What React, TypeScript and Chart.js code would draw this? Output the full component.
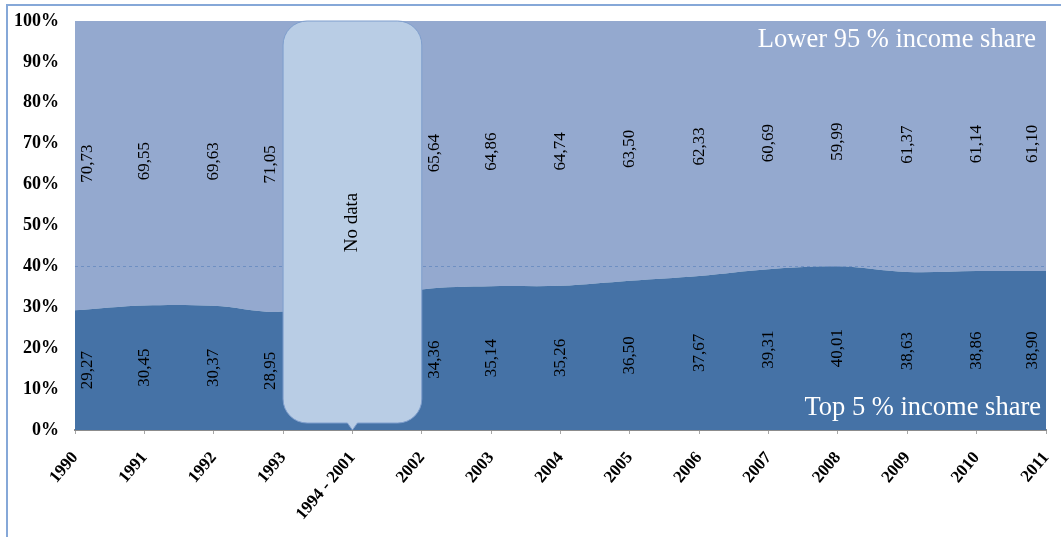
import React, { useEffect, useRef } from 'react';
import { Chart, registerables } from 'chart.js';

Chart.register(...registerables);

// Income shares (%) by year; the 1994 - 2001 column has no observations
const categories = [
  '1990', '1991', '1992', '1993', '1994 - 2001', '2002', '2003', '2004',
  '2005', '2006', '2007', '2008', '2009', '2010', '2011',
];
const top5Share: (number | null)[] = [
  29.27, 30.45, 30.37, 28.95, null, 34.36, 35.14, 35.26, 36.5, 37.67, 39.31, 40.01, 38.63, 38.86, 38.9,
];
const lower95Share: (number | null)[] = [
  70.73, 69.55, 69.63, 71.05, null, 65.64, 64.86, 64.74, 63.5, 62.33, 60.69, 59.99, 61.37, 61.14, 61.1,
];
const seriesNames = ['Top 5 % income share', 'Lower 95 % income share'];
const gapIndex = 4;
const gapText = 'No data';
const referenceLevel = 40;

const SERIF = '"Liberation Serif", "Times New Roman", serif';
const COLOR_TOP = '#4572a6';
const COLOR_LOWER = '#94a9cf';
const COLOR_CALLOUT = '#b9cde5';
const COLOR_CALLOUT_EDGE = '#7e9ecd';
const COLOR_FRAME = '#86a8d8';

const fmt = (v: number) => v.toFixed(2).replace('.', ',');

const overlayPlugin = {
  id: 'overlay',
  afterDatasetsDraw(chart: any) {
    const { ctx, chartArea: a, scales } = chart;
    const xs = scales.x;
    const ys = scales.y;
    ctx.save();

    // dashed reference line
    const yRef = Math.round(ys.getPixelForValue(referenceLevel)) + 0.5;
    ctx.strokeStyle = '#6e8fc2';
    ctx.lineWidth = 1;
    ctx.setLineDash([3, 3]);
    ctx.beginPath();
    ctx.moveTo(a.left, yRef);
    ctx.lineTo(a.right, yRef);
    ctx.stroke();
    ctx.setLineDash([]);

    // rounded callout covering the missing years
    const cl = xs.getPixelForValue(gapIndex - 1);
    const cr = xs.getPixelForValue(gapIndex + 1);
    const cx = xs.getPixelForValue(gapIndex);
    const ct = a.top;
    const cb = a.bottom - 7;
    const r = 24;
    ctx.beginPath();
    ctx.moveTo(cl + r, ct);
    ctx.lineTo(cr - r, ct);
    ctx.arcTo(cr, ct, cr, ct + r, r);
    ctx.lineTo(cr, cb - r);
    ctx.arcTo(cr, cb, cr - r, cb, r);
    ctx.lineTo(cx + 5, cb);
    ctx.lineTo(cx, a.bottom);
    ctx.lineTo(cx - 5, cb);
    ctx.lineTo(cl + r, cb);
    ctx.arcTo(cl, cb, cl, cb - r, r);
    ctx.lineTo(cl, ct + r);
    ctx.arcTo(cl, ct, cl + r, ct, r);
    ctx.closePath();
    ctx.fillStyle = COLOR_CALLOUT;
    ctx.fill();
    ctx.strokeStyle = COLOR_CALLOUT_EDGE;
    ctx.lineWidth = 1;
    ctx.stroke();

    ctx.fillStyle = '#000';
    ctx.textAlign = 'center';
    ctx.textBaseline = 'middle';
    ctx.font = `19px ${SERIF}`;
    ctx.save();
    ctx.translate(cx, (a.top + a.bottom) / 2 - 3);
    ctx.rotate(-Math.PI / 2);
    ctx.fillText(gapText, 0, 0);
    ctx.restore();

    // vertical value labels centred in each band
    ctx.font = `17px ${SERIF}`;
    const m0 = chart.getDatasetMeta(0);
    const m1 = chart.getDatasetMeta(1);
    const base = ys.getPixelForValue(0);
    const inset = 13;
    const last = categories.length - 1;
    for (let i = 0; i < categories.length; i++) {
      const t = top5Share[i];
      const l = lower95Share[i];
      if (t == null || l == null) continue;
      let shift = 0;
      if (i === 0 || i === gapIndex + 1) shift = inset;
      if (i === last || i === gapIndex - 1) shift = -inset;
      const px = m0.data[i].x + shift;
      const y0 = m0.data[i].y;
      const y1 = m1.data[i].y;
      const draw = (txt: string, yy: number) => {
        ctx.save();
        ctx.translate(px, yy);
        ctx.rotate(-Math.PI / 2);
        ctx.fillText(txt, 0, 0);
        ctx.restore();
      };
      draw(fmt(t), (base + y0) / 2);
      draw(fmt(l), (y0 + y1) / 2 - 2);
    }

    // series names inside the areas
    ctx.fillStyle = '#ffffff';
    ctx.font = `26.5px ${SERIF}`;
    ctx.textAlign = 'right';
    ctx.textBaseline = 'alphabetic';
    ctx.fillText(seriesNames[1], a.right - 10, a.top + 26);
    ctx.fillText(seriesNames[0], a.right - 5, a.bottom - 15);

    ctx.restore();
  },
  afterDraw(chart: any) {
    const { ctx } = chart;
    ctx.save();
    ctx.strokeStyle = COLOR_FRAME;
    ctx.lineWidth = 2;
    ctx.beginPath();
    ctx.moveTo(7, chart.height);
    ctx.lineTo(7, 5);
    ctx.lineTo(chart.width, 5);
    ctx.stroke();
    ctx.restore();
  },
};

export default function App() {
  const ref = useRef<HTMLCanvasElement | null>(null);

  useEffect(() => {
    if (!ref.current) return;
    const chart = new Chart(ref.current, {
      type: 'line',
      data: {
        labels: categories,
        datasets: [
          {
            label: seriesNames[0],
            data: top5Share,
            backgroundColor: COLOR_TOP,
            borderWidth: 0,
            pointRadius: 0,
            fill: 'origin',
            tension: 0.35,
            spanGaps: true,
          },
          {
            label: seriesNames[1],
            data: lower95Share,
            backgroundColor: COLOR_LOWER,
            borderWidth: 0,
            pointRadius: 0,
            fill: '-1',
            tension: 0.35,
            spanGaps: true,
          },
        ],
      },
      options: {
        responsive: false,
        animation: false,
        devicePixelRatio: 1,
        layout: { padding: { left: 0, top: 21, right: 15, bottom: 0 } },
        plugins: { legend: { display: false }, tooltip: { enabled: false } },
        scales: {
          x: {
            offset: false,
            grid: { display: true, drawOnChartArea: false, tickLength: 4, color: '#a6a6a6' },
            border: { display: true, color: '#8c8c8c', width: 2 },
            ticks: {
              autoSkip: false,
              minRotation: 50,
              maxRotation: 50,
              color: '#000',
              padding: 14,
              font: { family: SERIF, size: 17, weight: 'bold' },
            },
            afterFit: (s: any) => {
              s.height = 107;
              s.paddingLeft = 0;
              s.paddingRight = 0;
            },
          },
          y: {
            stacked: true,
            min: 0,
            max: 100,
            grid: { display: false, drawTicks: false },
            border: { display: false },
            ticks: {
              stepSize: 10,
              padding: 16,
              color: '#000',
              font: { family: SERIF, size: 18, weight: 'bold' },
              callback: (v: any) => `${v}%`,
            },
            afterFit: (s: any) => {
              s.width = 75;
              s.paddingTop = 0;
              s.paddingBottom = 0;
            },
          },
        },
      },
      plugins: [overlayPlugin],
    });
    return () => chart.destroy();
  }, []);

  return (
    <div style={{ position: 'absolute', left: 0, top: 0, width: 1061, height: 537, background: '#fff' }}>
      <canvas ref={ref} width={1061} height={537} style={{ width: 1061, height: 537, display: 'block' }} />
    </div>
  );
}
